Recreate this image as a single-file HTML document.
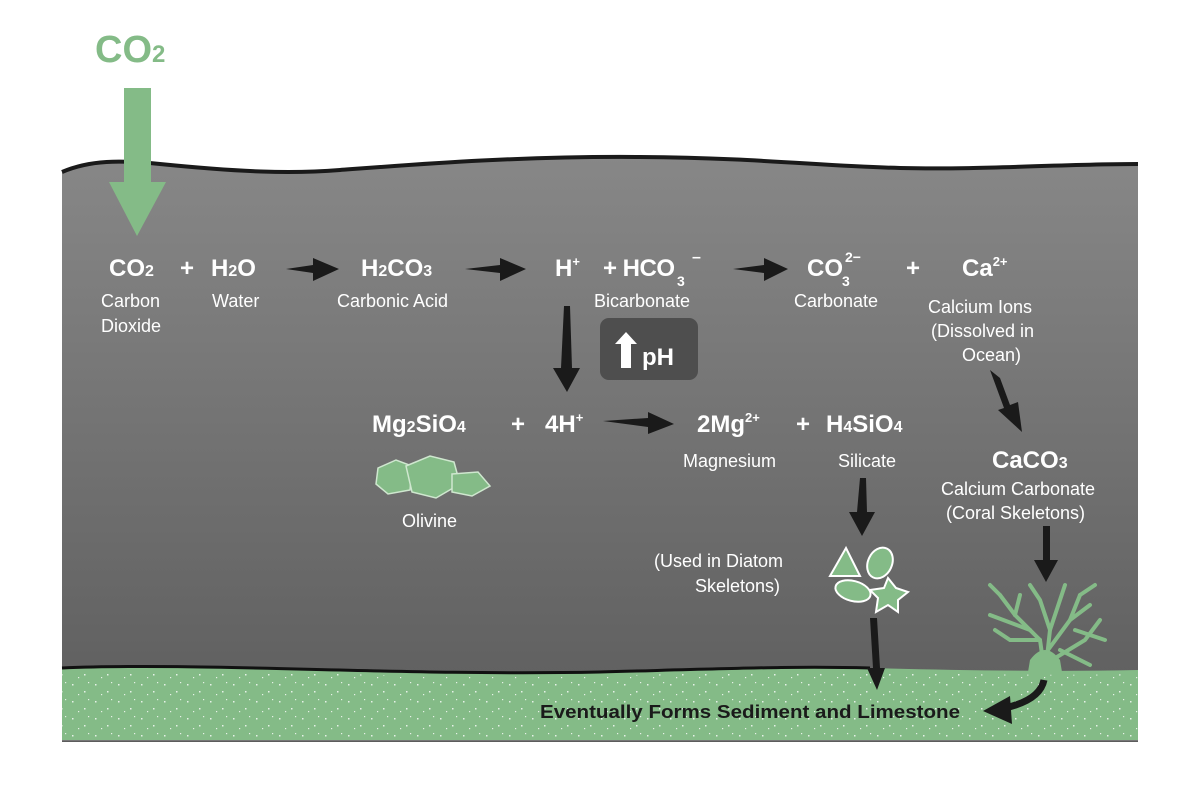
<!DOCTYPE html>
<html><head><style>
body{margin:0;background:#fff;}
svg{display:block;}
.t{font-family:"Liberation Sans",sans-serif;fill:#fff;}
.b{font-weight:bold;font-size:24px;}
.s{font-size:18px;}
</style></head><body>
<svg width="1200" height="789" viewBox="0 0 1200 789">
<defs>
<linearGradient id="g" x1="0" y1="0" x2="0" y2="1">
<stop offset="0" stop-color="#878787"/><stop offset="1" stop-color="#5c5c5c"/>
</linearGradient>
<pattern id="dots" width="23" height="17" patternUnits="userSpaceOnUse">
<rect x="3" y="4" width="1.5" height="1.5" fill="#fff"/><rect x="15" y="11" width="1.5" height="1.5" fill="#fff"/><rect x="9" y="14" width="1.2" height="1.2" fill="#fff"/><rect x="19" y="2" width="1.2" height="1.2" fill="#fff"/>
</pattern>
</defs>
<path d="M62 172 C90 160,120 160,160 164 C240 172,290 174,340 170 C420 164,520 156,640 157 C760 158,820 166,900 168 C980 170,1060 164,1138 164 L1138 742 L62 742 Z" fill="url(#g)"/>
<path d="M62 172 C90 160,120 160,160 164 C240 172,290 174,340 170 C420 164,520 156,640 157 C760 158,820 166,900 168 C980 170,1060 164,1138 164" fill="none" stroke="#1a1a1a" stroke-width="4"/>
<path d="M62 668 C200 662,400 676,600 672 C750 668,800 666,870 668 C950 670,1050 672,1138 670 L1138 740 L62 740 Z" fill="#84bb87"/>
<path d="M62 668 C200 662,400 676,600 672 C750 668,800 666,870 668" fill="none" stroke="#111" stroke-width="3"/>
<path d="M62 672 C200 666,400 680,600 676 C750 672,800 670,870 672 C950 674,1050 676,1138 674 L1138 740 L62 740 Z" fill="url(#dots)" opacity="0.8"/>
<rect x="62" y="740" width="1076" height="1" fill="#777"/>
<text x="95" y="62" font-family="Liberation Sans,sans-serif" font-weight="bold" font-size="38" fill="#84bb87">CO<tspan font-size="24">2</tspan></text>
<rect x="124" y="88" width="27" height="97" fill="#84bb87"/>
<polygon points="109,182 166,182 137,236" fill="#84bb87"/>
<text class="t b" x="109" y="276">CO<tspan font-size="16">2</tspan></text>
<text class="t b" x="180" y="276" font-size="20">+</text>
<text class="t b" x="211" y="276">H<tspan font-size="16">2</tspan>O</text>
<text class="t s" x="101" y="307">Carbon</text><text class="t s" x="101" y="332">Dioxide</text>
<text class="t s" x="212" y="307">Water</text>
<polygon points="286,269 313,265 313,258 339,269 313,281 313,273" fill="#1a1a1a"/>
<text class="t b" x="361" y="276">H<tspan font-size="16">2</tspan>CO<tspan font-size="16">3</tspan></text>
<text class="t s" x="337" y="307">Carbonic Acid</text>
<polygon points="465,269 500,265 500,258 526,269 500,281 500,273" fill="#1a1a1a"/>
<text class="t b" x="555" y="276">H<tspan font-size="13" dy="-10">+</tspan></text>
<text class="t b" x="603" y="276" textLength="72">+ HCO</text>
<text class="t" x="677" y="286" font-size="14" font-weight="bold">3</text>
<text class="t" x="692" y="262" font-size="16" font-weight="bold">–</text>
<text class="t s" x="594" y="307">Bicarbonate</text>
<polygon points="733,269 764,265 764,258 788,269 764,281 764,273" fill="#1a1a1a"/>
<text class="t b" x="807" y="276">CO</text>
<text class="t" x="842" y="286" font-size="14" font-weight="bold">3</text>
<text class="t" x="845" y="262" font-size="14" font-weight="bold">2−</text>
<text class="t s" x="794" y="307">Carbonate</text>
<text class="t b" x="906" y="276" font-size="20">+</text>
<text class="t b" x="962" y="276">Ca<tspan font-size="13" dy="-10">2+</tspan></text>
<text class="t s" x="928" y="313">Calcium Ions</text>
<text class="t s" x="931" y="337">(Dissolved in</text>
<text class="t s" x="962" y="361">Ocean)</text>
<rect x="600" y="318" width="98" height="62" rx="9" fill="#4e4e4e"/>
<polygon points="626,332 637,344 631,344 631,368 621,368 621,344 615,344" fill="#fff"/>
<text class="t b" x="642" y="365">pH</text>
<polygon points="564,306 570,306 572,368 580,368 567,392 553,368 561,368" fill="#1a1a1a"/>
<text class="t b" x="372" y="432">Mg<tspan font-size="16">2</tspan>SiO<tspan font-size="16">4</tspan></text>
<text class="t b" x="511" y="432" font-size="20">+</text>
<text class="t b" x="545" y="432">4H<tspan font-size="13" dy="-10">+</tspan></text>
<polygon points="603,421 648,418 648,412 674,424 648,434 648,427" fill="#1a1a1a"/>
<text class="t b" x="697" y="432">2Mg<tspan font-size="13" dy="-10">2+</tspan></text>
<text class="t b" x="796" y="432" font-size="20">+</text>
<text class="t b" x="826" y="432">H<tspan font-size="16">4</tspan>SiO<tspan font-size="16">4</tspan></text>
<text class="t s" x="683" y="467">Magnesium</text>
<text class="t s" x="838" y="467">Silicate</text>
<g fill="#84bb87" stroke="#cfe7cf" stroke-width="1.5">
<polygon points="378,468 396,460 412,466 410,490 388,494 376,484"/>
<polygon points="406,466 430,456 454,462 460,484 436,498 412,492"/>
<polygon points="452,474 478,472 490,486 472,496 452,492"/>
</g>
<text class="t s" x="402" y="527">Olivine</text>
<polygon points="860,478 866,478 867,512 875,512 862,536 849,512 857,512" fill="#1a1a1a"/>
<text class="t s" x="654" y="567">(Used in Diatom</text>
<text class="t s" x="695" y="592">Skeletons)</text>
<g fill="#84bb87" stroke="#fff" stroke-width="2">
<polygon points="846,548 830,576 860,576"/>
<ellipse cx="880" cy="563" rx="12" ry="16" transform="rotate(25 880 563)"/>
<ellipse cx="853" cy="591" rx="18" ry="10" transform="rotate(15 853 591)"/>
<polygon points="888,578 896,588 908,592 898,600 898,612 888,605 876,612 878,598 870,590 884,588"/>
</g>
<polygon points="870,618 877,618 880,668 885,668 877,690 867,668 873,668" fill="#1a1a1a"/>
<polygon points="990,370 1000,378 1010,405 1018,402 1022,432 998,410 1004,408" fill="#1a1a1a"/>
<text class="t b" x="992" y="468">CaCO<tspan font-size="16">3</tspan></text>
<text class="t s" x="941" y="495">Calcium Carbonate</text>
<text class="t s" x="946" y="519">(Coral Skeletons)</text>
<polygon points="1043,526 1050,526 1050,560 1058,560 1046,582 1034,560 1043,560" fill="#1a1a1a"/>
<g stroke="#84bb87" stroke-width="4" fill="none" stroke-linecap="round">
<path d="M1045 675 L1040 640 L1015 615 L1000 595"/>
<path d="M1045 675 L1050 630 L1040 600 L1030 585"/>
<path d="M1048 650 L1070 620 L1080 595"/>
<path d="M1052 660 L1085 640 L1100 620"/>
<path d="M1040 640 L1010 640 L995 630"/>
<path d="M1050 630 L1060 600 L1065 585"/>
<path d="M1015 615 L1020 595"/><path d="M1070 620 L1090 605"/>
<path d="M1060 650 L1090 665"/>
<path d="M1030 630 L990 615"/><path d="M1075 630 L1105 640"/>
<path d="M1000 595 L990 585"/><path d="M1080 595 L1095 585"/>
</g>
<path d="M1030 660 Q1045 640 1060 660 L1062 672 L1028 672Z" fill="#84bb87"/>
<path d="M1044 680 Q1040 700 1005 708" stroke="#1a1a1a" stroke-width="7" fill="none"/>
<polygon points="983,711 1010,696 1012,724" fill="#1a1a1a"/>
<text x="540" y="718" font-family="Liberation Sans,sans-serif" font-weight="bold" font-size="18" fill="#1a1a1a" textLength="420" lengthAdjust="spacingAndGlyphs">Eventually Forms Sediment and Limestone</text>
</svg>
</body></html>
